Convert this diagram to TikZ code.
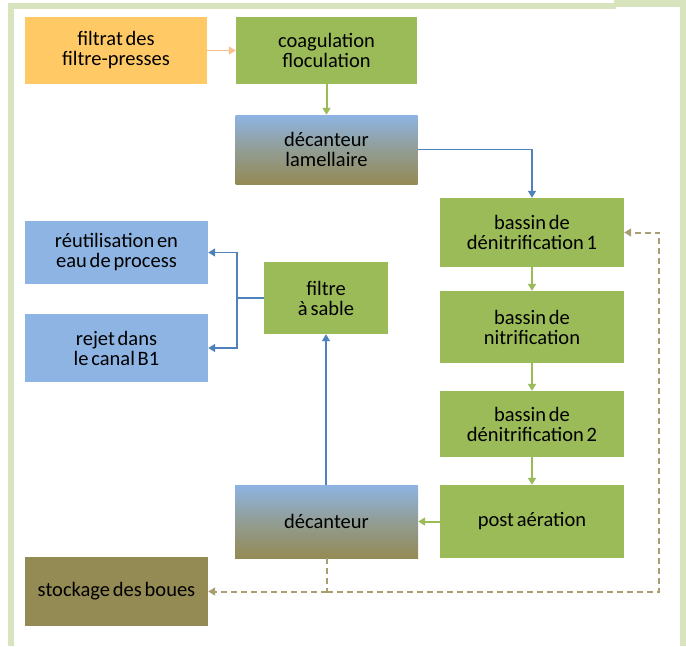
\documentclass[tikz,border=0pt]{standalone}
\usepackage{fontspec}
\setmainfont[WordSpace=0.6]{Carlito}
\usetikzlibrary{arrows.meta}
\definecolor{frameg}{HTML}{D7E4BD}
\definecolor{boxgreen}{HTML}{9BBB59}
\definecolor{boxorange}{HTML}{FFCA65}
\definecolor{boxblue}{HTML}{8EB4E3}
\definecolor{boxbrown}{HTML}{948A54}
\definecolor{arrblue}{HTML}{4F81BD}
\definecolor{arrorange}{HTML}{FAC090}
\definecolor{arrdash}{HTML}{A89E72}
\tikzset{
  proc/.style={rectangle, inner sep=0pt, align=center, font=\fontsize{20.5}{20}\selectfont, text=black},
  greenbox/.style={proc, fill=boxgreen},
  bluebox/.style={proc, fill=boxblue},
  orangebox/.style={proc, fill=boxorange},
  brownbox/.style={proc, fill=boxbrown},
  gradbox/.style={proc, top color=boxblue, bottom color=boxbrown, middle color=boxblue!45!boxbrown},
  tip/.style={-{Triangle[length=7pt,width=8pt]}},
  greenarr/.style={tip, draw=boxgreen, line width=2pt},
  bluearr/.style={draw=arrblue, line width=1.4pt},
  orangearr/.style={tip, draw=arrorange, line width=1.2pt},
  dasharr/.style={draw=arrdash, line width=2pt, dash pattern=on 6pt off 4pt}
}
\begin{document}
\begin{tikzpicture}[x=1pt,y=-1pt]
\useasboundingbox (0,0) rectangle (686,646);
% frame
\fill[frameg] (8,4) rectangle (14,646);
\fill[frameg] (8,3) rectangle (616,9);
\fill[frameg] (614,0) rectangle (686,6.5);
\fill[frameg] (680,0) rectangle (686,646);
% nodes
\node[orangebox, minimum width=182pt, minimum height=67pt] (filtrat) at (116,50.5) {filtrat des\\filtre-presses};
\node[greenbox, minimum width=181pt, minimum height=67pt] (coag) at (326.5,50.5) {coagulation\\floculation};
\node[gradbox, minimum width=182pt, minimum height=69pt] (lam) at (326.5,149.5) {décanteur\\lamellaire};
\node[greenbox, minimum width=184pt, minimum height=69pt] (den1) at (532,232.5) {bassin de\\dénitrification 1};
\node[greenbox, minimum width=184pt, minimum height=72pt] (nit) at (532,327) {bassin de\\nitrification};
\node[greenbox, minimum width=184pt, minimum height=66pt] (den2) at (532,424) {bassin de\\dénitrification 2};
\node[greenbox, minimum width=184pt, minimum height=73pt] (post) at (532,521.5) {post aération};
\node[gradbox, minimum width=183pt, minimum height=73pt] (dec) at (326.5,521.5) {décanteur};
\node[greenbox, minimum width=124pt, minimum height=72pt] (filtre) at (326,298) {filtre\\à sable};
\node[bluebox, minimum width=183pt, minimum height=63pt] (reut) at (116.5,252.5) {réutilisation en\\eau de process};
\node[bluebox, minimum width=183pt, minimum height=68pt] (rejet) at (116.5,348) {rejet dans\\le canal B1};
\node[brownbox, minimum width=183pt, minimum height=69pt] (stock) at (116.5,591.5) {stockage des boues};
% connectors
\draw[orangearr] (filtrat) -- (coag);
\draw[greenarr] (coag) -- (lam);
\draw[bluearr, tip] (lam.east) -| (den1.north);
\draw[greenarr] (den1) -- (nit);
\draw[greenarr] (nit) -- (den2);
\draw[greenarr] (den2) -- (post);
\draw[greenarr] (post) -- (dec);
\draw[bluearr, tip] (dec.north -| filtre.south) -- (filtre.south);
\coordinate (br) at (237,298);
\draw[bluearr] (filtre.west) -- (br);
\draw[bluearr, tip] (br) |- (reut.east);
\draw[bluearr, tip] (br) |- (rejet.east);
\coordinate (dj) at (326.5,591.5);
\coordinate (dr) at (659,591.5);
\draw[dasharr] (dec.south) -- (dj);
\draw[dasharr, tip] (dj) -- (stock.east);
\draw[dasharr, tip] (dj) -- (dr) |- (den1.east);
\end{tikzpicture}
\end{document}
